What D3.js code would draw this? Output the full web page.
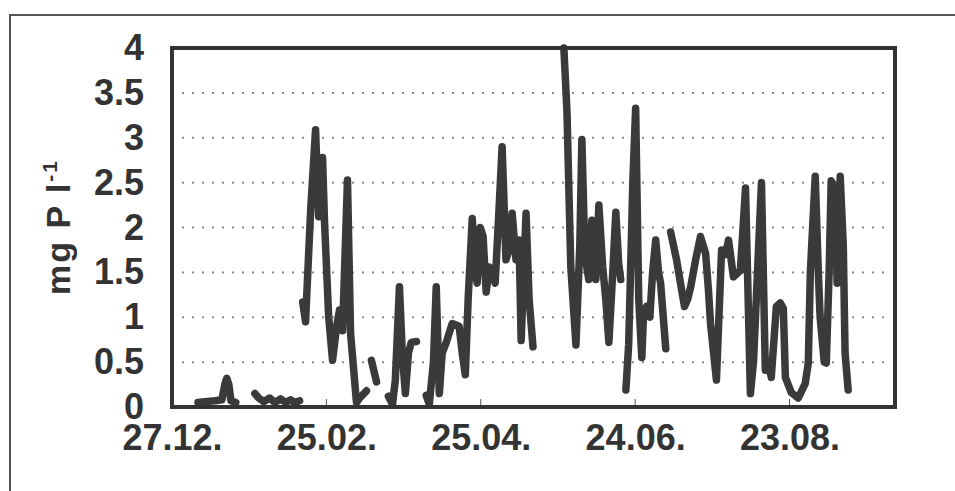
<!DOCTYPE html>
<html>
<head>
<meta charset="utf-8">
<script src="https://cdn.jsdelivr.net/npm/d3@7"></script>
<style>
  html, body { margin: 0; padding: 0; background: #fff; }
  svg { display: block; }
  text { font-family: "Liberation Sans", Arial, sans-serif; font-weight: bold; fill: #333; }
</style>
</head>
<body>
<svg id="chart" width="955" height="491"></svg>
<script>
// days after 27.12., null marks a gap in the record
const days = [
  10.1, 12.8, 16.7, 19.4, 20.5, 21.3, 22.1, 22.9, 24.8, null,
  32.2, 33.7, 35.7, 38.0, 39.9, 42.2, 44.2, 46.1, 47.7, 49.6, null,
  50.8, 51.9, 53.9, 55.8, 57.0, 57.8, 58.5, 59.3, 60.9, 62.4, 64.0, 65.1, 66.3, 68.2, 69.4, 71.7, 72.9, 75.6, null,
  77.5, 79.5, null,
  84.1, 85.7, 86.8, 88.4, 89.5, 90.7, 91.9, 93.0, 95.0, null,
  98.8, 100.0, 101.6, 102.7, 103.9, 105.0, 106.6, 108.9, 111.6, 112.8, 114.0, 115.1, 116.7, 117.8, 118.6,
  119.8, 120.9, 122.1, 123.3, 125.6, 127.1, 128.3, 129.8, 131.0, 132.2, 133.7, 134.9, 135.7, 137.6, 138.8, 140.3, null,
  152.3, 153.5, 155.0, 157.0, 158.5, 159.3, 160.5, 162.0, 163.2, 164.7, 165.9, 167.4, 168.6, 169.8, 171.3, 172.5, 173.6, 174.4, null,
  176.4, 177.5, 179.1, 180.2, 181.4, 182.6, 183.3, 184.5, 185.7, 186.8, 188.0, 189.1, 189.9, 191.9, null,
  193.8, 196.1, 198.1, 199.2, 200.4, 201.6, 203.5, 205.4, 207.4, 208.5, 209.3, 211.6, 213.6, 215.1, 216.3, 218.2,
  220.9, 222.9, 224.8, 226.0, 229.1, 230.6, 231.8, 232.9, 234.9, 236.4, 237.6, 238.4, 240.7, 243.4, 246.1, 247.3,
  248.1, 250.0, 251.2, 251.9, 253.5, 254.3, 255.4, 256.2, 257.8, 258.5, 259.7, 260.9, 261.6, 262.8
];

// mg P per litre
const values = [
  0.05, 0.06, 0.07, 0.08, 0.25, 0.32, 0.25, 0.07, 0.05, null,
  0.15, 0.10, 0.06, 0.10, 0.05, 0.09, 0.05, 0.08, 0.05, 0.07, null,
  1.17, 0.95, 2.20, 3.09, 2.12, 2.30, 2.78, 2.05, 1.00, 0.52, 0.90, 1.08, 0.85, 2.53, 0.82, 0.05, 0.10, 0.18, null,
  0.52, 0.28, null,
  0.12, 0.03, 0.30, 1.34, 0.60, 0.15, 0.60, 0.72, 0.73, null,
  0.13, 0.03, 0.50, 1.34, 0.15, 0.60, 0.72, 0.93, 0.90, 0.60, 0.36, 1.20, 2.10, 1.50, 1.38,
  2.00, 1.90, 1.28, 1.56, 1.38, 2.20, 2.90, 1.64, 1.75, 2.16, 1.64, 1.86, 0.74, 2.16, 1.20, 0.67, null,
  4.00, 3.30, 1.56, 0.69, 1.80, 2.98, 1.68, 1.42, 2.08, 1.42, 2.25, 1.56, 1.20, 0.72, 1.50, 2.17, 1.60, 1.42, null,
  0.19, 0.70, 2.50, 3.33, 1.20, 0.55, 1.05, 1.12, 1.00, 1.50, 1.86, 1.50, 1.38, 0.65, null,
  1.95, 1.64, 1.30, 1.12, 1.20, 1.34, 1.64, 1.90, 1.71, 1.30, 0.93, 0.30, 1.75, 1.70, 1.86, 1.45,
  1.52, 2.44, 0.15, 0.50, 2.50, 0.41, 0.50, 0.33, 1.12, 1.16, 1.10, 0.33, 0.16, 0.10, 0.26, 0.49,
  1.50, 2.57, 1.50, 1.00, 0.50, 0.49, 1.50, 2.52, 2.44, 1.38, 2.57, 1.80, 0.60, 0.19
];

const tickDays = [0, 60, 120, 180, 240];
const tickLabels = ["27.12.", "25.02.", "25.04.", "24.06.", "23.08."];
const yTicks = [0, 0.5, 1, 1.5, 2, 2.5, 3, 3.5, 4];
const gridValues = [0.5, 1, 1.5, 2, 2.5, 3, 3.5];

const svg = d3.select("#chart");
const plot = { left: 172, top: 48, right: 895, bottom: 407 };

const x = d3.scaleLinear().domain([0, 281]).range([plot.left, plot.right]);
const y = d3.scaleLinear().domain([0, 4]).range([plot.bottom, plot.top]);

// outer frame (only top and left edges show)
svg.append("path")
  .attr("d", "M10,491V15H955")
  .attr("fill", "none")
  .attr("stroke", "#555")
  .attr("stroke-width", 2);

// dotted gridlines
svg.append("g")
  .selectAll("line")
  .data(gridValues)
  .join("line")
  .attr("x1", plot.left + 10)
  .attr("x2", plot.right - 4)
  .attr("y1", d => y(d))
  .attr("y2", d => y(d))
  .attr("stroke", "#8a8a8a")
  .attr("stroke-width", 2)
  .attr("stroke-dasharray", "2,8");

// small tick marks standing on the bottom border
svg.append("g")
  .selectAll("line")
  .data(tickDays.slice(1))
  .join("line")
  .attr("x1", d => x(d))
  .attr("x2", d => x(d))
  .attr("y1", plot.bottom)
  .attr("y2", plot.bottom - 8)
  .attr("stroke", "#555")
  .attr("stroke-width", 1);

// the phosphorus series
const points = days.map((d, i) => ({ day: d, v: values[i] }));
const line = d3.line()
  .defined(d => d.day != null && d.v != null)
  .x(d => x(d.day))
  .y(d => y(d.v));

svg.append("path")
  .datum(points)
  .attr("d", line)
  .attr("fill", "none")
  .attr("stroke", "#3a3a3a")
  .attr("stroke-width", 7.5)
  .attr("stroke-linejoin", "round")
  .attr("stroke-linecap", "round");

// plot border on top
svg.append("rect")
  .attr("x", plot.left)
  .attr("y", plot.top)
  .attr("width", plot.right - plot.left)
  .attr("height", plot.bottom - plot.top)
  .attr("fill", "none")
  .attr("stroke", "#333")
  .attr("stroke-width", 4);

// y axis labels
const yAxis = svg.append("g")
  .attr("transform", `translate(${plot.left},0)`)
  .call(d3.axisLeft(y).tickValues(yTicks).tickSize(0).tickPadding(28).tickFormat(d3.format("")));
yAxis.select(".domain").remove();
yAxis.selectAll("text")
  .attr("font-size", 36)
  .attr("font-family", null);

// x axis labels
const xAxis = svg.append("g")
  .attr("transform", `translate(0,${plot.bottom})`)
  .call(d3.axisBottom(x).tickValues(tickDays).tickSize(0).tickPadding(17)
    .tickFormat((d, i) => tickLabels[i]));
xAxis.select(".domain").remove();
xAxis.selectAll("text")
  .attr("font-size", 36)
  .attr("font-family", null);

// y axis title
const title = svg.append("text")
  .attr("transform", "translate(70,227) rotate(-90)")
  .attr("text-anchor", "middle")
  .attr("font-size", 34)
  .attr("letter-spacing", 2);
title.append("tspan").text("mg P l");
title.append("tspan").attr("dy", -13).attr("font-size", 21).text("-1");
</script>
</body>
</html>
